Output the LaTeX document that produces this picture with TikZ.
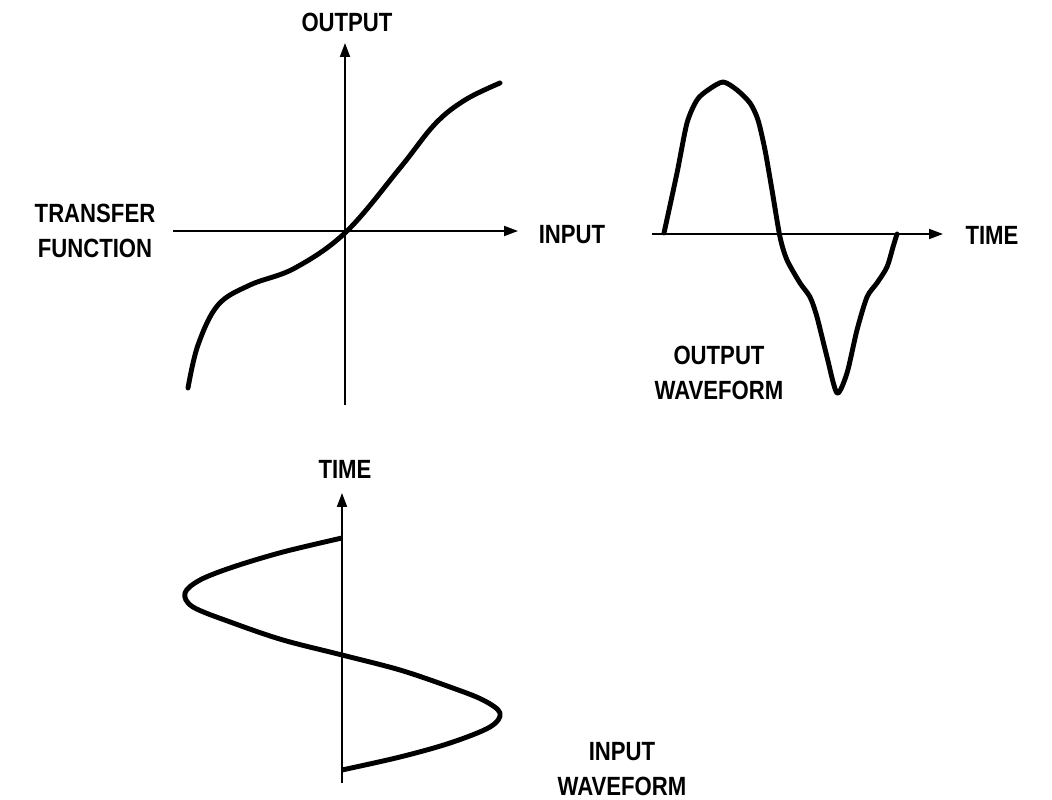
\documentclass[tikz,border=0pt]{standalone}
\usepackage{fontspec}
\setmainfont{Liberation Sans}[FakeStretch=0.84]
\usetikzlibrary{arrows.meta}
\begin{document}
\begin{tikzpicture}[x=0.02cm,y=-0.02cm,
  lbl/.style={font=\fontsize{15pt}{18pt}\selectfont\bfseries, inner sep=0pt, text height=10.7pt, text depth=0pt},
  axis/.style={line width=1.1pt, -{Triangle[length=0.28cm,width=0.2cm]}},
  wave/.style={line width=2.8pt, line cap=round, line join=round}]
\useasboundingbox (0,0) rectangle (1052,800);
\fill[white] (0,0) rectangle (1052,800);

% ---------- transfer function ----------
\coordinate (tfL) at (173,231);
\coordinate (tfR) at (518,231);
\coordinate (tfB) at (345,405);
\coordinate (tfT) at (345,43);
\draw[axis] (tfL) -- (tfR);
\draw[axis] (tfB) -- (tfT);
\node[lbl] (outlbl) at (347,22) {OUTPUT};
\node[lbl] (inlbl) at (572,234) {INPUT};
\node[lbl] (tf1) at (95,213) {TRANSFER};
\node[lbl] (tf2) at (95,248) {FUNCTION};
\draw[wave] plot[smooth, tension=0.6] coordinates {
  (188,388) (198,345) (218,305) (250,285) (295,268)
  (346,232) (400,168) (435,124) (465,100) (500,83)};

% ---------- output waveform ----------
\coordinate (owL) at (652,234);
\coordinate (owR) at (943,234);
\draw[axis] (owL) -- (owR);
\node[lbl] (timelbl) at (992,235) {TIME};
\node[lbl] (ow1) at (719,355) {OUTPUT};
\node[lbl] (ow2) at (719,390) {WAVEFORM};
\draw[wave] plot[smooth, tension=0.45] coordinates {
  (664,233) (677,173) (687,123) (697,100) (708,90) (723,82) (737,90)
  (750,103) (758,120) (765,150) (772,190) (780,237) (787,260) (800,283)
  (810,297) (817,317) (827,357) (837,393) (847,373) (857,330) (867,297)
  (877,283) (887,267) (893,247) (897,234)};

% ---------- input waveform ----------
\coordinate (iwB) at (342,783);
\coordinate (iwT) at (342,493);
\draw[axis] (iwB) -- (iwT);
\node[lbl] (time2) at (345,469) {TIME};
\node[lbl] (iw1) at (622,751) {INPUT};
\node[lbl] (iw2) at (622,786) {WAVEFORM};
\draw[wave, line cap=butt] plot[smooth, tension=0.55] coordinates {
  (342,538) (283,552) (233,567) (200,580) (185,593) (193,607) (233,623)
  (283,640) (342,655) (400,670) (450,687) (483,700) (500,713) (490,727)
  (450,743) (400,757) (342,770)};
\end{tikzpicture}
\end{document}
